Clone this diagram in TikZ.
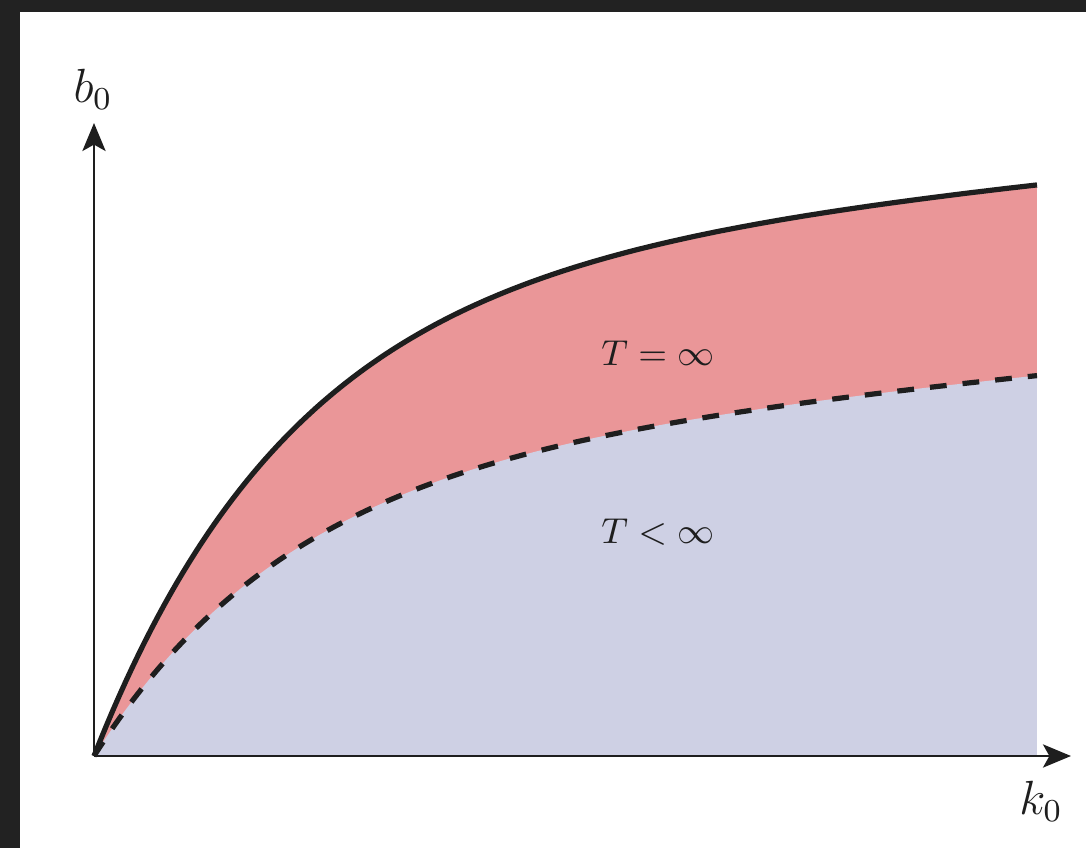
\documentclass[tikz,border=0pt]{standalone}
\usepackage{amsmath,amssymb}
\usepackage{xcolor}
\usepackage{tikz}
\usetikzlibrary{arrows.meta}
\definecolor{regionred}{HTML}{EA9698}
\definecolor{regionblue}{HTML}{CED0E4}
\definecolor{curveblack}{HTML}{1E1E1E}
\definecolor{framedark}{HTML}{222222}

\begin{document}
\begin{tikzpicture}[x=0.25pt, y=-0.25pt, every node/.style={font=\normalsize, text=curveblack},
  declare function={bsolid(\k)=488.7*(1-exp(-\k/200))+0.092*\k;
                    bdash(\k)=296.3*(1-exp(-\k/200))+0.092*\k;},
  axisline/.style={curveblack, line width=0.6pt, -{Stealth[length=7pt, width=5.8pt, inset=1.6pt]}},
  bound/.style={curveblack, line width=1.3pt},
  softbound/.style={bound, dash pattern=on 4.2pt off 4pt},
  regionlabel/.style={font=\fontsize{9.2}{11}\selectfont}]

\useasboundingbox (0,0) rectangle (1086,848);

% ---------------- screen frame ----------------------------------------------
\fill[framedark] (0,0) rectangle (1086,12);
\fill[framedark] (0,0) rectangle (20,848);

% ---------------- regions ---------------------------------------------------
\coordinate (O) at (94,756);
\coordinate (corner) at (1037,756);
\fill[regionred] (O) -- plot[domain=0:943, samples=150] ({94+\x},{756-bsolid(\x)})
  -- (corner) -- cycle;
\fill[regionblue] (O) -- plot[domain=0:943, samples=150] ({94+\x},{756-bdash(\x)})
  -- (corner) -- cycle;

% ---------------- axes ------------------------------------------------------
\coordinate (ytip) at (94,123);
\coordinate (xtip) at (1071,756);
\draw[axisline] (O) -- (ytip);
\draw[axisline] (O) -- (xtip);
\node[font=\large] (blabel) at (93,89) {$b_0$};
\node[font=\large] (klabel) at (1041,801) {$k_0$};

% ---------------- boundary curves -------------------------------------------
\draw[bound] plot[domain=0:943, samples=150] ({94+\x},{756-bsolid(\x)});
\draw[softbound] plot[domain=0:943, samples=150] ({94+\x},{756-bdash(\x)});

\node[regionlabel] (teq) at (658,353) {$T = \infty$};
\node[regionlabel] (tless) at (658,532) {$T < \infty$};

\end{tikzpicture}
\end{document}
